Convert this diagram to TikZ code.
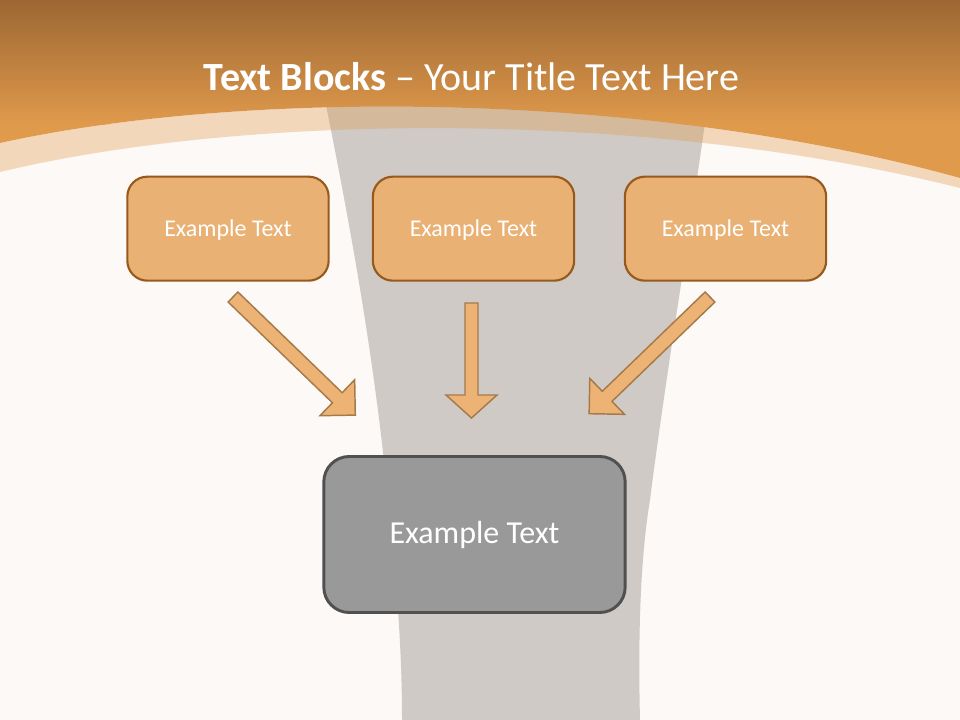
\documentclass[tikz,border=0pt]{standalone}
\usepackage{fontspec}
\setmainfont{Carlito}

\definecolor{slidebg}{HTML}{FCF9F6}
\definecolor{glassgray}{HTML}{CFCAC6}
\definecolor{headtop}{HTML}{9C6733}
\definecolor{headbottom}{HTML}{E09A4C}
\definecolor{blockfill}{HTML}{E9B174}
\definecolor{blockline}{HTML}{975A1C}
\definecolor{arrowfill}{HTML}{EDB375}
\definecolor{arrowline}{HTML}{A57A4B}
\definecolor{resultfill}{HTML}{999999}
\definecolor{resultline}{HTML}{505050}

\begin{document}
\begin{tikzpicture}[x=0.75pt, y=-0.75pt,
  textblock/.style={draw=blockline, fill=blockfill, line width=1.6pt,
    rounded corners=15pt, minimum width=151pt, minimum height=78pt,
    text=white, font=\fontsize{18}{22}\selectfont},
  resultblock/.style={draw=resultline, fill=resultfill, line width=2.2pt,
    rounded corners=19pt, minimum width=226pt, minimum height=117pt,
    text=white, font=\fontsize{24}{29}\selectfont},
  blockarrow/.style={draw=arrowline, fill=arrowfill, line width=1.1pt}]

\useasboundingbox (0,0) rectangle (960,720);

% background and glass
\fill[slidebg] (0,0) rectangle (960,720);
\fill[glassgray] (325,100) .. controls (345,200) and (370,330) .. (385,470)
  .. controls (395,560) and (402,640) .. (402,720) -- (640,720)
  .. controls (638,640) and (640,560) .. (650,500)
  .. controls (665,380) and (695,200) .. (708,100) -- cycle;

% header
\begin{scope}
\clip (0,0) -- (960,0) -- (960,178) .. controls (650,92) and (250,88) .. (0,143) -- cycle;
\shade[top color=headtop, bottom color=headbottom] (0,0) rectangle (960,125);
\fill[headbottom] (0,124) rectangle (960,190);
\end{scope}
\fill[headbottom, opacity=0.35]
  (0,143) .. controls (250,88) and (650,92) .. (960,178) -- (960,188)
  .. controls (650,110) and (250,112) .. (0,172) -- cycle;

\node[text=white, font=\fontsize{30}{36}\selectfont] (title) at (471.5,77)
  {\textbf{Text Blocks} \textendash{} Your Title Text Here};

% blocks
\node[textblock, text depth=0pt, yshift=-2pt] (blockA) at (228,226) {Example Text};
\node[textblock, text depth=0pt, yshift=-2pt] (blockB) at (473.5,226) {Example Text};
\node[textblock, text depth=0pt, yshift=-2pt] (blockC) at (725.5,226) {Example Text};
\node[resultblock] (result) at (474.5,534.5) {Example Text};

% arrows
\draw[blockarrow, shift={(233,297)}, rotate=-44]
  (0,-7) -- (145,-7) -- (145,-25) -- (170,0) -- (145,25) -- (145,7) -- (0,7) -- cycle;
\draw[blockarrow, shift={(471.5,303)}, rotate=-90]
  (0,-6.5) -- (92,-6.5) -- (92,-25.5) -- (115,0) -- (92,25.5) -- (92,6.5) -- (0,6.5) -- cycle;
\draw[blockarrow, shift={(710,297)}, rotate=-136]
  (0,-7) -- (143,-7) -- (143,-25) -- (168,0) -- (143,25) -- (143,7) -- (0,7) -- cycle;

\end{tikzpicture}
\end{document}
